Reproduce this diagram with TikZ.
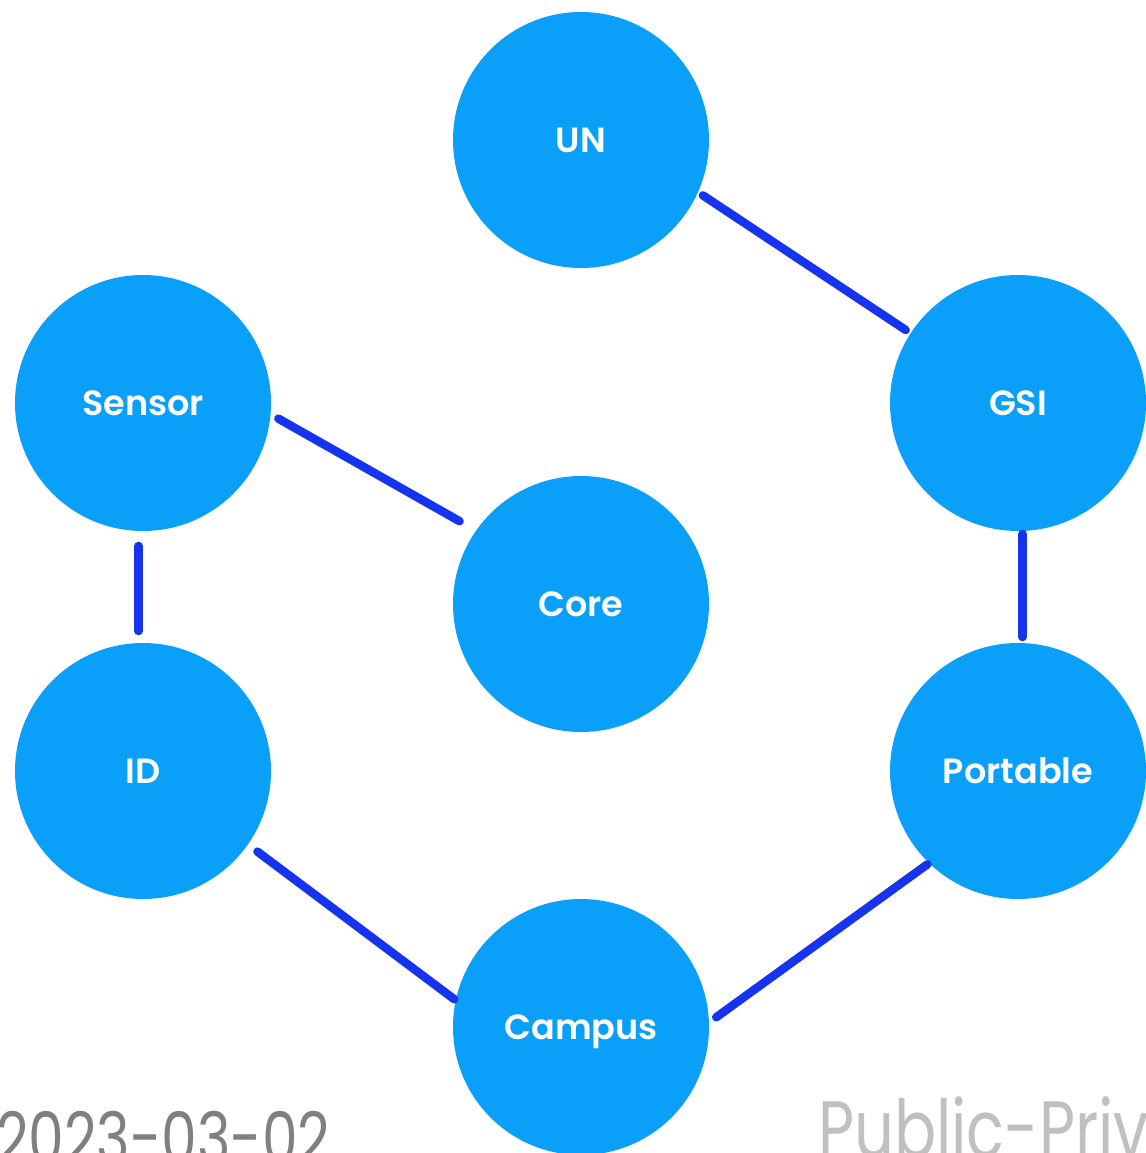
\documentclass[tikz,border=0pt]{standalone}
\usepackage{fontspec}
\newfontfamily\labelfont{Poppins SemiBold}
\newfontfamily\datefont[FakeStretch=0.8]{Poppins}
\newfontfamily\titlefont[FakeStretch=0.78]{Poppins}
\definecolor{nodeblue}{RGB}{10,160,250}
\definecolor{linkblue}{RGB}{22,52,240}
\definecolor{dategrey}{RGB}{128,128,128}
\definecolor{titlegrey}{RGB}{192,192,192}
\tikzset{
  hub/.style={circle,fill=nodeblue,draw=none,minimum size=256pt,inner sep=0pt,outer sep=0pt,
    text=white,text height=24.5pt,text depth=0pt,font=\labelfont\fontsize{35}{40}\selectfont},
  link/.style={draw=linkblue,line width=8.5pt,line cap=round},
  foot/.style={inner sep=0pt,outer sep=0pt,anchor=base west}
}
\begin{document}
\begin{tikzpicture}[x=1pt,y=-1pt]
\useasboundingbox (0,0) rectangle (1145,1153);
\node[hub] (un) at (581,140) {UN};
\node[hub] (sensor) at (143,403) {Sensor};
\node[hub] (gsi) at (1018,403) {GSI};
\node[hub] (core) at (581,604) {Core};
\node[hub] (id) at (143,771) {ID};
\node[hub] (portable) at (1018,771) {Portable};
\node[hub] (campus) at (581,1027) {Campus};
\draw[link,shorten <=6pt,shorten >=6pt] (un.-24) -- (gsi.147);
\draw[link,shorten <=9pt,shorten >=19pt] (sensor.-5) -- (core.145);
\draw[link,shorten <=15pt,shorten >=12pt] (sensor.-92) -- (id.92);
\draw[link,shorten <=3pt,shorten >=6pt] (gsi.-88) -- (portable.88);
\draw[link,shorten <=12pt,shorten >=2pt] (id.-35) -- (campus.168);
\draw[link,shorten <=2pt,shorten >=9pt] (portable.226) -- (campus.2);
\node[foot,text=dategrey,font=\datefont\fontsize{71}{80}\selectfont] (date) at (-4,1163) {2023-03-02};
\node[foot,text=titlegrey,font=\titlefont\fontsize{80}{90}\selectfont] (title) at (818,1157) {Public-Priv};
\end{tikzpicture}
\end{document}
